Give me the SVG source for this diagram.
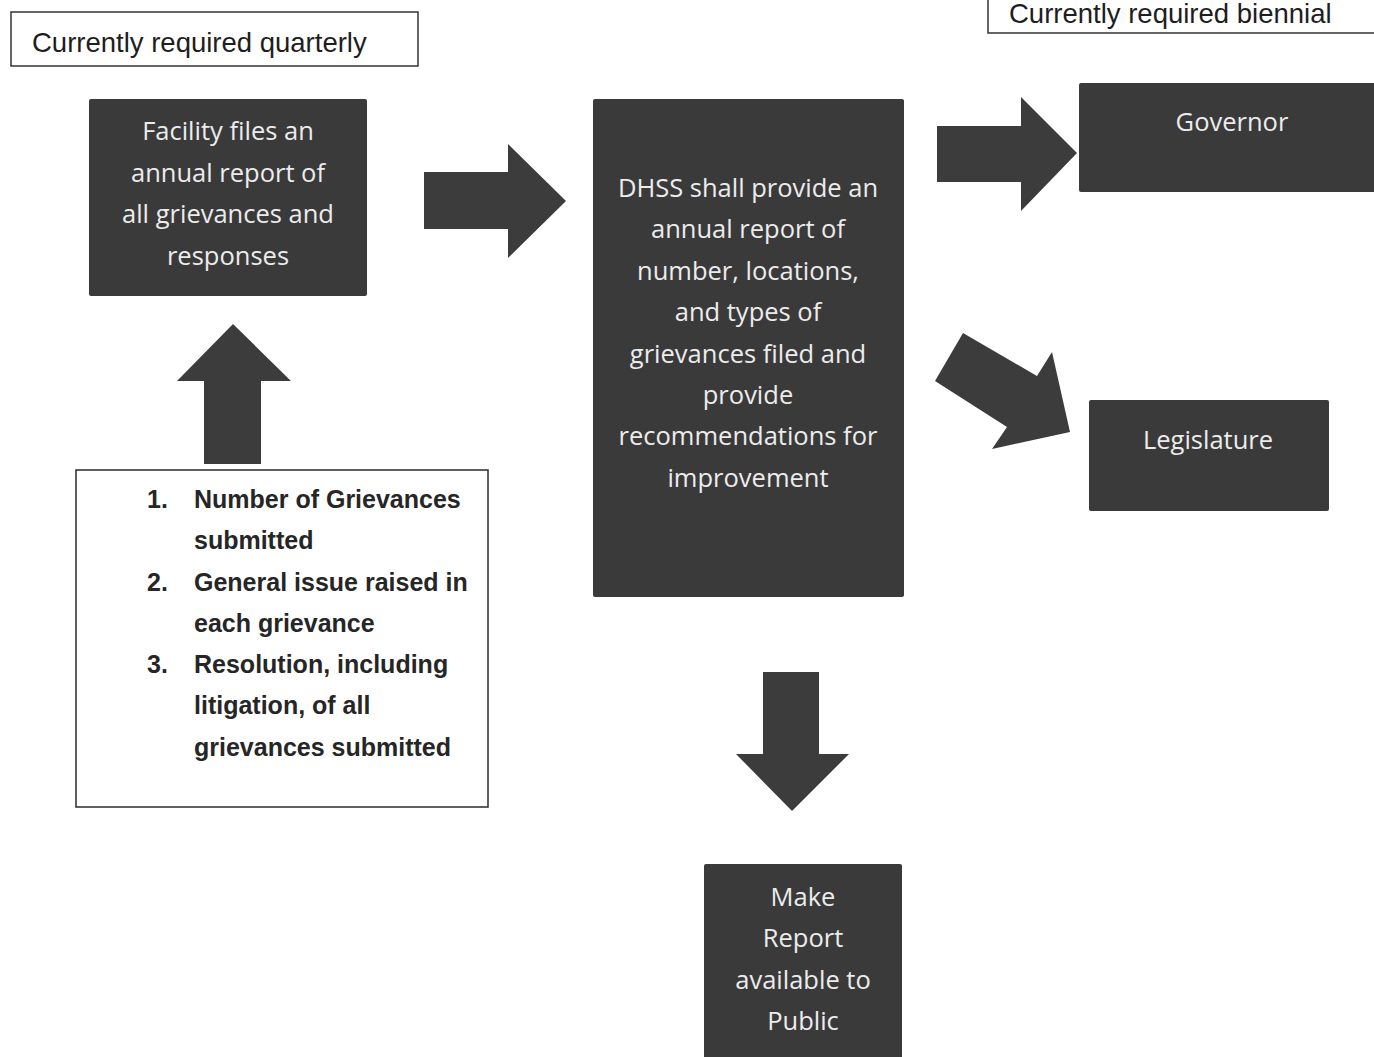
<svg xmlns="http://www.w3.org/2000/svg" width="1374" height="1057" viewBox="0 0 1374 1057">
<style>
.dark{fill:#3a3a3a;}
.arrow{fill:#3c3c3c;}
.wt{font-family:"Open Sans","DejaVu Sans",sans-serif;font-size:25.5px;fill:#ececec;text-anchor:middle;}
.lbl{fill:#ffffff;stroke:#333333;stroke-width:1.5;}
.lt{font-family:"Liberation Sans",Arial,sans-serif;font-size:27.5px;fill:#1e1e1e;}
.list{font-family:"Liberation Sans",Arial,sans-serif;font-size:25px;font-weight:bold;fill:#262626;}
</style>
<rect width="1374" height="1057" fill="#ffffff"/>

<g id="label-quarterly">
<rect class="lbl" x="11" y="12" width="407" height="54"/>
<text class="lt" x="32" y="52">Currently required quarterly</text>
</g>

<g id="label-biennial">
<rect class="lbl" x="988" y="-6" width="400" height="39"/>
<text class="lt" x="1009" y="23">Currently required biennial</text>
</g>

<g id="node-facility">
<rect class="dark" x="89" y="99" width="278" height="197" rx="2"/>
<text class="wt" x="228" y="140">Facility files an</text>
<text class="wt" x="228" y="182">annual report of</text>
<text class="wt" x="228" y="223">all grievances and</text>
<text class="wt" x="228" y="265">responses</text>
</g>

<g id="node-list">
<rect fill="#ffffff" stroke="#2a2a2a" stroke-width="1.5" x="76" y="470" width="412" height="337"/>
<text class="list" x="147" y="508">1.</text>
<text class="list" x="194" y="508">Number of Grievances</text>
<text class="list" x="194" y="549">submitted</text>
<text class="list" x="147" y="591">2.</text>
<text class="list" x="194" y="591">General issue raised in</text>
<text class="list" x="194" y="632">each grievance</text>
<text class="list" x="147" y="673">3.</text>
<text class="list" x="194" y="673">Resolution, including</text>
<text class="list" x="194" y="714">litigation, of all</text>
<text class="list" x="194" y="756">grievances submitted</text>
</g>

<g id="node-dhss">
<rect class="dark" x="593" y="99" width="311" height="498" rx="2"/>
<text class="wt" x="748" y="197">DHSS shall provide an</text>
<text class="wt" x="748" y="238">annual report of</text>
<text class="wt" x="748" y="280">number, locations,</text>
<text class="wt" x="748" y="321">and types of</text>
<text class="wt" x="748" y="363">grievances filed and</text>
<text class="wt" x="748" y="404">provide</text>
<text class="wt" x="748" y="445">recommendations for</text>
<text class="wt" x="748" y="487">improvement</text>
</g>

<g id="node-governor">
<rect class="dark" x="1079" y="83" width="310" height="109" rx="2"/>
<text class="wt" x="1232" y="131">Governor</text>
</g>

<g id="node-legislature">
<rect class="dark" x="1089" y="400" width="240" height="111" rx="2"/>
<text class="wt" x="1208" y="449">Legislature</text>
</g>

<g id="node-public">
<rect class="dark" x="704" y="864" width="198" height="200" rx="2"/>
<text class="wt" x="803" y="906">Make</text>
<text class="wt" x="803" y="947">Report</text>
<text class="wt" x="803" y="989">available to</text>
<text class="wt" x="803" y="1030">Public</text>
</g>

<g id="connectors">
<polygon class="arrow" points="204,464 204,381 177,381 233,324 291,381 261,381 261,464"/>
<polygon class="arrow" points="424,172 508,172 508,144 566,201 508,258 508,229 424,229"/>
<polygon class="arrow" points="937,126 1021,126 1021,97 1077,153 1021,211 1021,182 937,182"/>
<polygon class="arrow" points="963,333 1037,376 1052,352 1070,432 992,449 1007,427 935,381"/>
<polygon class="arrow" points="763,672 819,672 819,754 849,754 792,811 736,754 763,754"/>
</g>
</svg>
